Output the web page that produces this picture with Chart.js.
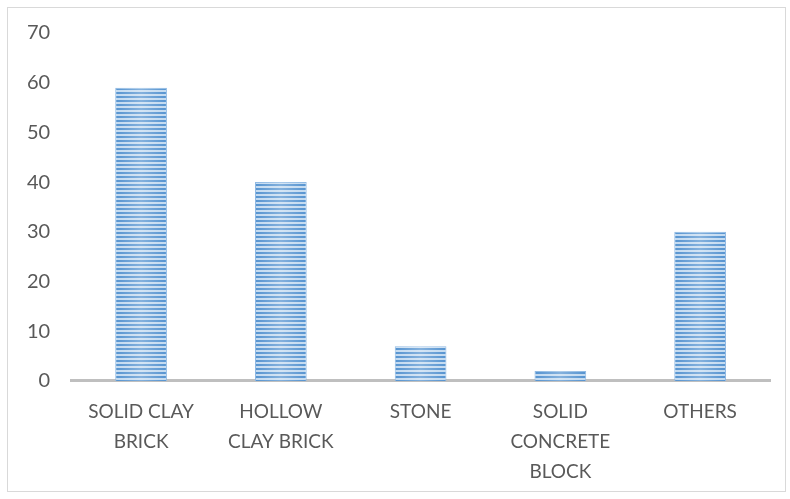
<!DOCTYPE html>
<html>
<head>
<meta charset="utf-8">
<script src="https://cdn.jsdelivr.net/npm/chart.js@4"></script>
<style>
  html, body { margin: 0; padding: 0; background: #fff; }
  #wrap { position: relative; width: 790px; height: 499px; }
  #frame { position: absolute; left: 7px; top: 7px; width: 777px; height: 483px; border: 1px solid #d9d9d9; }
  canvas { position: absolute; left: 0; top: 0; }
</style>
</head>
<body>
<div id="wrap">
  <div id="frame"></div>
  <canvas id="wallChart" width="790" height="499"></canvas>
</div>
<script>
const categories = [
    ["SOLID CLAY", "BRICK"],
    ["HOLLOW", "CLAY BRICK"],
    ["STONE"],
    ["SOLID", "CONCRETE", "BLOCK"],
    ["OTHERS"]
];
const counts = [59, 40, 7, 2, 30];
const yTicks = [0, 10, 20, 30, 40, 50, 60, 70];

// striped fill for the bars
function stripePattern() {
    const c = document.createElement("canvas");
    c.width = 4;
    c.height = 4;
    const g = c.getContext("2d");
    g.fillStyle = "#c3daf0";
    g.fillRect(0, 0, 4, 4);
    g.fillStyle = "#5593d0";
    g.fillRect(0, 0, 4, 2);
    return g.createPattern(c, "repeat");
}

// soft highlight down the middle of each bar
const barSheen = {
    id: "barSheen",
    afterDatasetsDraw(chart) {
        const ctx = chart.ctx;
        chart.getDatasetMeta(0).data.forEach(bar => {
            const left = bar.x - bar.width / 2;
            const right = bar.x + bar.width / 2;
            const grad = ctx.createLinearGradient(left, 0, right, 0);
            grad.addColorStop(0, "rgba(255,255,255,0)");
            grad.addColorStop(0.5, "rgba(255,255,255,0.28)");
            grad.addColorStop(1, "rgba(255,255,255,0)");
            ctx.save();
            ctx.fillStyle = grad;
            ctx.fillRect(left, bar.y, bar.width, bar.base - bar.y);
            ctx.restore();
        });
    }
};

const ctx = document.getElementById("wallChart").getContext("2d");
new Chart(ctx, {
    type: "bar",
    data: {
        labels: categories,
        datasets: [{
            data: counts,
            backgroundColor: stripePattern(),
            borderColor: "#8fb9e3",
            borderWidth: 1,
            barPercentage: 0.37,
            categoryPercentage: 1
        }]
    },
    plugins: [barSheen],
    options: {
        responsive: false,
        animation: false,
        layout: { padding: { left: 6, right: 20, top: 31, bottom: -4 } },
        plugins: {
            legend: { display: false },
            tooltip: { enabled: false }
        },
        scales: {
            x: {
                grid: { display: false, drawTicks: false },
                border: { color: "#bfbfbf", width: 3 },
                ticks: {
                    color: "#595959",
                    font: { family: "Lato", size: 19, lineHeight: 1.58 },
                    padding: 16,
                    maxRotation: 0,
                    autoSkip: false
                }
            },
            y: {
                min: 0,
                max: 70,
                afterBuildTicks(axis) {
                    axis.ticks = yTicks.map(v => ({ value: v }));
                },
                grid: { display: false, drawTicks: false },
                border: { display: false },
                ticks: {
                    color: "#595959",
                    font: { family: "Lato", size: 20 },
                    padding: 21
                }
            }
        }
    }
});
</script>
</body>
</html>
